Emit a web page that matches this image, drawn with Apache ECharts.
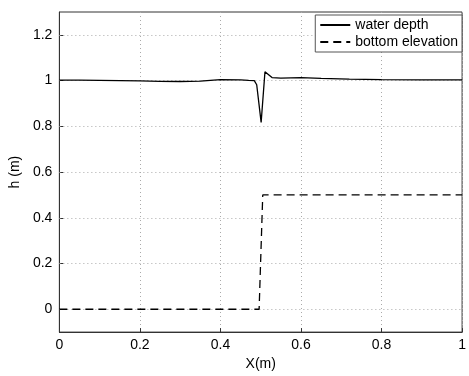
<!DOCTYPE html>
<html><head><meta charset="utf-8">
<script src="https://cdn.jsdelivr.net/npm/echarts@6/dist/echarts.min.js"></script>
<style>html,body{margin:0;padding:0;background:#fff}#c{width:469px;height:376px}</style>
</head><body><div id="c"></div>
<script>
var depthX = [0, 0.05, 0.1, 0.15, 0.2, 0.25, 0.3, 0.35, 0.4, 0.45, 0.47, 0.484, 0.49, 0.493, 0.501, 0.5105, 0.528, 0.55, 0.6, 0.65, 0.72, 0.8, 0.9, 1.0];
var depthY = [1.002, 1.002, 1.001, 1.0, 0.999, 0.997, 0.996, 0.998, 1.004, 1.003, 1.001, 1.0, 0.982, 0.986, 0.817, 1.039, 1.013, 1.011, 1.013, 1.01, 1.006, 1.004, 1.003, 1.003];
var bedX = [0, 0.496, 0.505, 1];
var bedY = [0, 0, 0.5, 0.5];
var seriesNames = ['water depth', 'bottom elevation'];
var yTicks = [0, 0.2, 0.4, 0.6, 0.8, 1.0, 1.2];

function pairs(xs, ys){ return xs.map(function(x,i){ return [x, ys[i]]; }); }
var font = 'Liberation Sans, Arial, sans-serif';
var chart = echarts.init(document.getElementById('c'));
chart.setOption({
  animation:false,
  grid:{left:55, right:4, top:12, bottom:40, show:true, borderColor:'#333', borderWidth:1},
  legend:{
    data:seriesNames, orient:'vertical', right:7, top:15, padding:[3,4,3,4],
    borderColor:'#555', borderWidth:1, backgroundColor:'#fff',
    itemWidth:30, itemHeight:10, itemGap:3,
    itemStyle:{opacity:0},
    textStyle:{fontFamily:font, fontSize:14, color:'#000'}
  },
  xAxis:{
    type:'value', min:0, max:1, interval:0.2, name:'X(m)', nameLocation:'middle', nameGap:22,
    nameTextStyle:{fontFamily:font, fontSize:14, color:'#000'},
    axisLine:{show:true, onZero:false, lineStyle:{color:'#333'}},
    axisTick:{show:true, inside:true, length:4, lineStyle:{color:'#333'}},
    axisLabel:{fontFamily:font, fontSize:14, color:'#000', margin:6,
      formatter:function(v){return String(Math.round(v*10)/10);}},
    splitLine:{show:true, lineStyle:{color:'#aaa', type:[1,3], width:1}}
  },
  yAxis:{
    type:'value', min:-0.1, max:1.3, name:'h (m)', nameLocation:'middle', nameGap:28,
    nameTextStyle:{fontFamily:font, fontSize:14, color:'#000'},
    axisLine:{show:true, onZero:false, lineStyle:{color:'#333'}},
    axisTick:{show:true, inside:true, length:4, lineStyle:{color:'#333'}, customValues:yTicks},
    axisLabel:{fontFamily:font, fontSize:14, color:'#000', margin:7, customValues:yTicks,
      formatter:function(v){return String(Math.round(v*10)/10);}},
    splitLine:{show:false}
  },
  series:[
    {type:'line', data:[], z:1, markLine:{silent:true, symbol:'none', label:{show:false}, z:1,
      lineStyle:{color:'#aaa', type:[1,3], width:1},
      data:yTicks.map(function(v){return {yAxis:v};})}},
    {name:seriesNames[0], type:'line', data:pairs(depthX, depthY), symbol:'none', z:5,
      lineStyle:{color:'#000', width:1.3}, itemStyle:{color:'#000'}},
    {name:seriesNames[1], type:'line', data:pairs(bedX, bedY), symbol:'none', z:5,
      lineStyle:{color:'#000', width:1.3, type:[8,5]}, itemStyle:{color:'#000'}}
  ]
});
</script></body></html>
